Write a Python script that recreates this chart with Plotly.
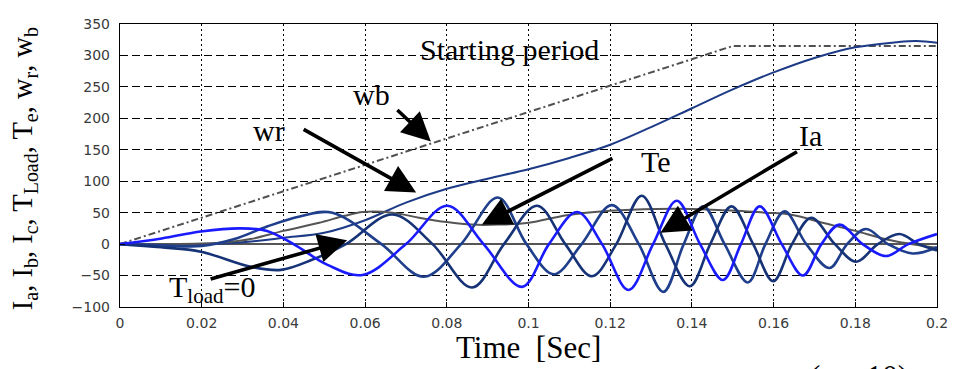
import plotly.graph_objects as go

# ---------------- data ----------------
x_ticks = [0, 0.02, 0.04, 0.06, 0.08, 0.1, 0.12, 0.14, 0.16, 0.18, 0.2]
x_tick_labels = ["0", "0.02", "0.04", "0.06", "0.08", "0.1", "0.12", "0.14", "0.16", "0.18", "0.2"]
y_ticks = [-100, -50, 0, 50, 100, 150, 200, 250, 300, 350]

# base speed wb (dash-dot)
t_wb = [0, 0.15, 0.2]
wb = [0, 315, 315]

# rotor speed wr
t_wr = [0, 0.01, 0.02, 0.03, 0.04, 0.05, 0.06, 0.07, 0.08, 0.09, 0.1, 0.11, 0.12, 0.13,
        0.14, 0.15, 0.16, 0.17, 0.18, 0.19, 0.195, 0.2]
wr = [0, 0, 0, 3, 10, 18, 38, 66, 88, 104, 119, 137, 158, 186,
      216, 246, 273, 296, 313, 321, 323, 320]

# electromagnetic torque Te
t_te = [0, 0.01, 0.02, 0.026, 0.032, 0.04, 0.0488, 0.055, 0.0594, 0.0667, 0.0732, 0.08,
        0.0862, 0.0927, 0.1, 0.1094, 0.12, 0.1314, 0.14, 0.151, 0.158, 0.164, 0.172,
        0.18, 0.188, 0.2]
te = [0, 0, 1, 3, 8, 21, 34, 45, 51, 50, 42, 35,
      31, 31, 34, 46, 53, 56, 56, 53, 50, 47, 34,
      21, 7, -6]

# load torque
t_load = [0, 0.2]
tload = [0, 0]

# phase current Ia
t_ia = [0, 0.0102, 0.0198, 0.0295, 0.036, 0.0425, 0.0508, 0.0594, 0.070, 0.0801, 0.089,
        0.0984, 0.105, 0.1119, 0.118, 0.1245, 0.1305, 0.1363, 0.142, 0.1476, 0.152,
        0.1566, 0.162, 0.1672, 0.1717, 0.1761, 0.1818, 0.1875, 0.193, 0.2]
ia = [0, 9, 20, 25, 21, 0, -33, -49, 0, 61, 0,
      -68, 0, 51, 0, -73, 0, 69, 0, -57, 0,
      60, 0, -50, 0, 31, 0, -19, 0, 16]

# phase current Ib
t_ib = [0, 0.01, 0.02, 0.028, 0.036, 0.044, 0.052, 0.064, 0.0744, 0.0835, 0.0925,
        0.0995, 0.1062, 0.113, 0.1204, 0.127, 0.133, 0.138, 0.1428, 0.148, 0.1537,
        0.158, 0.1627, 0.168, 0.1737, 0.178, 0.1826, 0.188, 0.194, 0.2]
ib = [0, -2, -3, 8, 28, 44, 50, 0, -52, 0, 74,
      0, -48, 0, 62, 0, -76, 0, 60, 0, -61,
      0, 52, 0, -38, 0, 24, 0, -15, -5]

# phase current Ic
t_ic = [0, 0.01, 0.0198, 0.032, 0.0394, 0.047, 0.0553, 0.0667, 0.0765, 0.0862, 0.094,
        0.1021, 0.109, 0.1155, 0.1215, 0.1277, 0.1335, 0.1395, 0.1445, 0.1497, 0.155,
        0.1599, 0.1645, 0.1692, 0.175, 0.1802, 0.1855, 0.1908, 0.1955, 0.2]
ic = [0, -5, -12, -36, -41, -25, 0, 47, 0, -69, 0,
      61, 0, -51, 0, 77, 0, -67, 0, 60, 0,
      -59, 0, 42, 0, -28, 0, 16, 0, -10]

# ---------------- figure ----------------
fig = go.Figure()

fig.add_trace(go.Scatter(x=t_wb, y=wb, mode="lines",
                         line=dict(color="#505050", width=2, dash="7px,3px,2px,3px")))
fig.add_trace(go.Scatter(x=t_load, y=tload, mode="lines",
                         line=dict(color="#555555", width=2)))
fig.add_trace(go.Scatter(x=t_wr, y=wr, mode="lines", line_shape="spline",
                         line=dict(color="#1c3a86", width=2)))
fig.add_trace(go.Scatter(x=t_te, y=te, mode="lines", line_shape="spline",
                         line=dict(color="#555555", width=2)))
fig.add_trace(go.Scatter(x=t_ib, y=ib, mode="lines", line_shape="spline",
                         line=dict(color="#1f3f8c", width=2.6)))
fig.add_trace(go.Scatter(x=t_ic, y=ic, mode="lines", line_shape="spline",
                         line=dict(color="#173377", width=2.6)))
fig.add_trace(go.Scatter(x=t_ia, y=ia, mode="lines", line_shape="spline",
                         line=dict(color="#1a1aff", width=2.6)))

tick_font = dict(family="DejaVu Sans, Verdana, sans-serif", size=14, color="#3a3a3a")
serif = "Liberation Serif, Times New Roman, serif"

# page has an 8px body margin, so the figure is 8px smaller than the window
fig.update_layout(
    width=948, height=361,
    margin=dict(l=112, r=17, t=8, b=62, pad=0),
    paper_bgcolor="white", plot_bgcolor="white",
    showlegend=False,
    xaxis=dict(range=[0, 0.2], tickvals=x_ticks, ticktext=x_tick_labels,
               showline=True, linecolor="black", linewidth=1.4, mirror=True,
               ticks="inside", ticklen=5, tickcolor="black",
               showgrid=True, gridcolor="black", gridwidth=1, griddash="2px,3px",
               zeroline=False, tickfont=tick_font, ticklabelstandoff=3),
    yaxis=dict(range=[-100, 350], tickvals=y_ticks,
               showline=True, linecolor="black", linewidth=1.4, mirror=True,
               ticks="inside", ticklen=5, tickcolor="black",
               showgrid=True, gridcolor="black", gridwidth=1, griddash="8px,4px",
               zeroline=False, tickfont=tick_font, ticklabelstandoff=6),
)

# convert page pixel positions (window coordinates) to paper coordinates
def px2paper(px, py):
    return (px - 120) / 819.0, (307 - py) / 291.0

annots = []

def text_at(txt, px, py, size, angle=0):
    xx, yy = px2paper(px, py)
    annots.append(dict(text=txt, x=xx, y=yy, xref="paper", yref="paper",
                       xanchor="center", yanchor="middle", textangle=angle,
                       showarrow=False, font=dict(family=serif, size=size, color="black")))

text_at("Time&nbsp;&nbsp;[Sec]", 529, 349, 31)
text_at("I<sub>a</sub>, I<sub>b</sub>, I<sub>c</sub>, T<sub>Load</sub>, "
        "T<sub>e</sub>, w<sub>r</sub>, w<sub>b</sub>", 25, 165, 28.5, angle=-90)
text_at("Starting period", 510, 42, 30)
text_at("(&nbsp;&nbsp;&nbsp;&nbsp;&nbsp;&nbsp;10)", 861, 378, 31)

# arrow labels: (label, tip t, tip value, tail dx, tail dy, label px, label py)
arrow_specs = [
    ("wb", 0.0761, 163, -35, -33, 372, 88),
    ("wr", 0.0725, 82, -114, -64, 269, 126),
    ("Te", 0.0886, 31, 132, -67, 657, 157),
    ("Ia", 0.1323, 18, 138, -82, 812, 131),
    ("", 0.0556, 6, -138, 39, 0, 0),
]
for lab, tx, ty, dx, dy, lx, ly in arrow_specs:
    annots.append(dict(x=tx, y=ty, xref="x", yref="y", ax=dx, ay=dy,
                       showarrow=True, arrowhead=2, arrowsize=1.6, arrowwidth=3.6,
                       arrowcolor="black", text=""))
    if lab:
        text_at(lab, lx, ly, 30)
text_at("T<sub>load</sub>=0", 212, 289, 30)

fig.update_layout(annotations=annots)
fig.write_html("out.html")
